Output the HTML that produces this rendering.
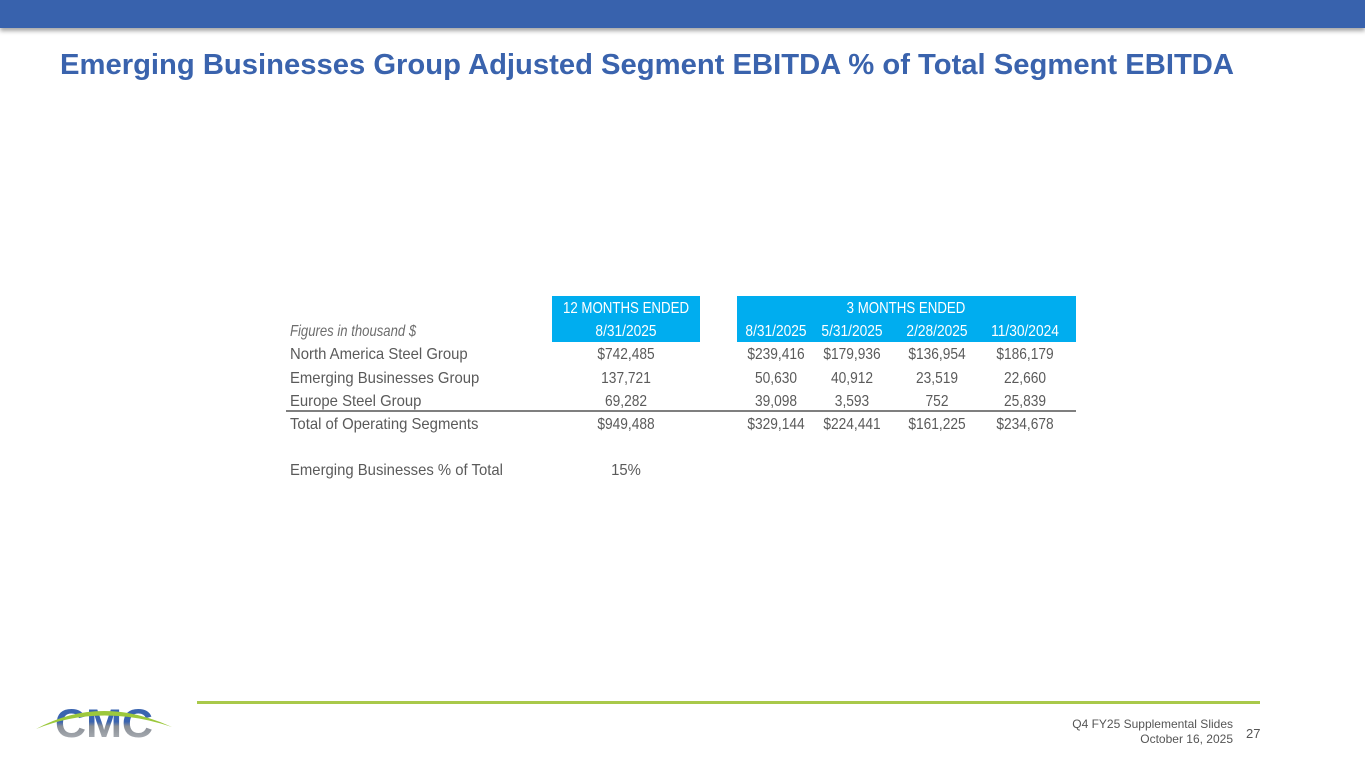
<!DOCTYPE html>
<html><head><meta charset="utf-8"><style>
html,body{margin:0;padding:0;background:#fff;}
svg{display:block;font-family:"Liberation Sans",sans-serif;}
</style></head><body>
<svg width="1365" height="768" viewBox="0 0 1365 768">
<defs><filter id="sh" x="0" y="0" width="1" height="2"><feDropShadow dx="0" dy="3" stdDeviation="2" flood-color="#000" flood-opacity="0.35"/></filter>
<linearGradient id="mg" x1="0" y1="0" x2="0" y2="1"><stop offset="0.45" stop-color="#3a64b0"/><stop offset="0.55" stop-color="#8a8f96"/><stop offset="1" stop-color="#b8bcc2"/></linearGradient></defs>
<rect x="0" y="0" width="1365" height="28" fill="#3762ad" filter="url(#sh)"/>
<text x="60" y="74" font-weight="bold" font-size="29" fill="#3a63ad" textLength="1174" lengthAdjust="spacingAndGlyphs">Emerging Businesses Group Adjusted Segment EBITDA % of Total Segment EBITDA</text>
<g id="tbl">
<rect x="552" y="296" width="148" height="46" fill="#00adef"/>
<rect x="737" y="296" width="339" height="46" fill="#00adef"/>
<line x1="286" y1="411" x2="1076" y2="411" stroke="#555" stroke-width="1.5"/>
</g>
<g>
<text x="55" y="737" font-weight="bold" font-size="40" fill="url(#mg)" textLength="98" lengthAdjust="spacingAndGlyphs">CMC</text>
<path d="M36 729 Q100 694 172 727 Q100 703 36 729Z" fill="#9cc83c"/>
</g>
<rect x="197" y="701" width="1063" height="3" fill="#a9c94a"/>
<text x="1233" y="728" text-anchor="end" font-size="12" fill="#555">Q4 FY25 Supplemental Slides</text>
<text x="1233" y="743" text-anchor="end" font-size="12" fill="#555">October 16, 2025</text>
<text x="1246" y="738" font-size="13" fill="#555">27</text>
</svg>
<script>
const colHeaders = ["8/31/2025","8/31/2025","5/31/2025","2/28/2025","11/30/2024"];
const groupHeaders = ["12 MONTHS ENDED","3 MONTHS ENDED"];
const rowLabels = ["North America Steel Group","Emerging Businesses Group","Europe Steel Group","Total of Operating Segments"];
const rowValues = [
  ["$742,485","$239,416","$179,936","$136,954","$186,179"],
  ["137,721","50,630","40,912","23,519","22,660"],
  ["69,282","39,098","3,593","752","25,839"],
  ["$949,488","$329,144","$224,441","$161,225","$234,678"]
];
const pctLabel = "Emerging Businesses % of Total";
const pctValue = "15%";
const NS = "http://www.w3.org/2000/svg";
const g = document.getElementById("tbl");
const colX = [626, 776, 852, 937, 1025];
const rowY = [359, 383, 406, 429];
function t(x,y,s,anchor,fill,italic,sx){const e=document.createElementNS(NS,"text");e.setAttribute("x",0);e.setAttribute("y",0);e.setAttribute("transform","translate("+x+","+y+") scale("+(sx||0.93)+",1)");e.setAttribute("font-size","16");e.setAttribute("fill",fill||"#5a5a5a");e.setAttribute("text-anchor",anchor);if(italic)e.setAttribute("font-style","italic");e.textContent=s;g.appendChild(e);return e;}
const gh1=t(626,313,groupHeaders[0],"middle","#fff",false,0.83);


const gh2=t(906,313,groupHeaders[1],"middle","#fff",false,0.83);


const fig=t(290,336,"Figures in thousand $","start","#6d6d6d",true,0.82);


colHeaders.forEach((h,i)=>{const e=t(colX[i],336,h,"middle","#fff",false,0.86);

});
rowLabels.forEach((l,r)=>{const e=t(290,rowY[r],l,"start");


rowValues[r].forEach((v,c)=>{const c2=t(colX[c],rowY[r],v,"middle",null,false,0.86);

});});
const pl=t(290,475,pctLabel,"start");


const pv=t(626,475,pctValue,"middle");


</script>
</body></html>
